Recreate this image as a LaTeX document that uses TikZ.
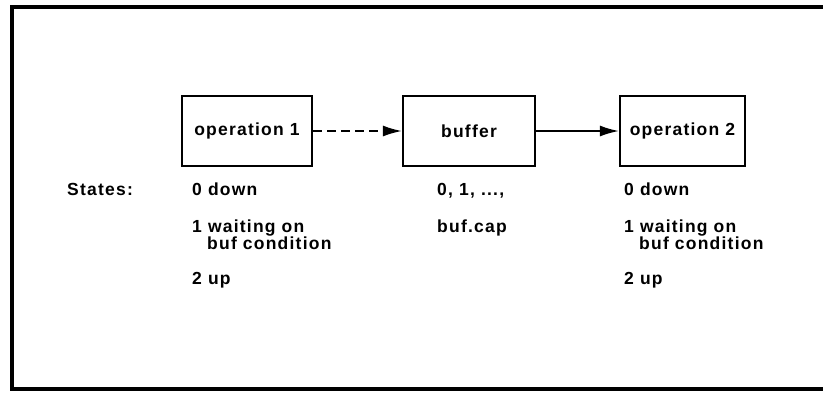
\documentclass[tikz,border=0pt]{standalone}
\usepackage{fontspec}
\setmainfont{Liberation Sans}[LetterSpace=7]
\usetikzlibrary{positioning, arrows.meta}

\begin{document}
\begin{tikzpicture}[x=1pt, y=-1pt, font=\fontsize{17.5}{17}\selectfont\bfseries,
    opbox/.style={draw, line width=2.2pt, minimum width=128pt, minimum height=70pt, inner sep=2pt},
    statetxt/.style={anchor=base west, inner sep=0pt, align=left}]
  \useasboundingbox (0,0) rectangle (823,392);

  % open frame, no right edge
  \draw[line width=4pt] (823,7) -- (12,7) -- (12,389) -- (823,389);

  \node[opbox, minimum width=130pt] (op1) at (247,131) {operation 1};
  \node[opbox, minimum width=132pt] (buf) at (469,131) {buffer};
  \node[opbox, minimum width=125pt] (op2) at (682.5,131) {operation 2};

  \draw[line width=1.8pt, dash pattern=on 9pt off 5pt, -{Latex[length=19pt, width=11pt]}] (op1.east) -- (buf.west);
  \draw[line width=1.8pt, -{Latex[length=19pt, width=11pt]}] (buf.east) -- (op2.west);

  \node[statetxt] (states) at (67,195) {States:};

  % base of a two-line node sits on its last line
  \node[statetxt] (a0) at (192,195) {0 down};
  \node[statetxt] (a1) at (192,249) {1 waiting on\\\hspace*{15pt}buf condition};
  \node[statetxt] (a2) at (192,284) {2 up};

  \node[statetxt] (b0) at (437,195) {0, 1, ...,};
  \node[statetxt] (b1) at (437,232) {buf.cap};

  \node[statetxt] (c0) at (624,195) {0 down};
  \node[statetxt] (c1) at (624,249) {1 waiting on\\\hspace*{15pt}buf condition};
  \node[statetxt] (c2) at (624,284) {2 up};
\end{tikzpicture}
\end{document}
